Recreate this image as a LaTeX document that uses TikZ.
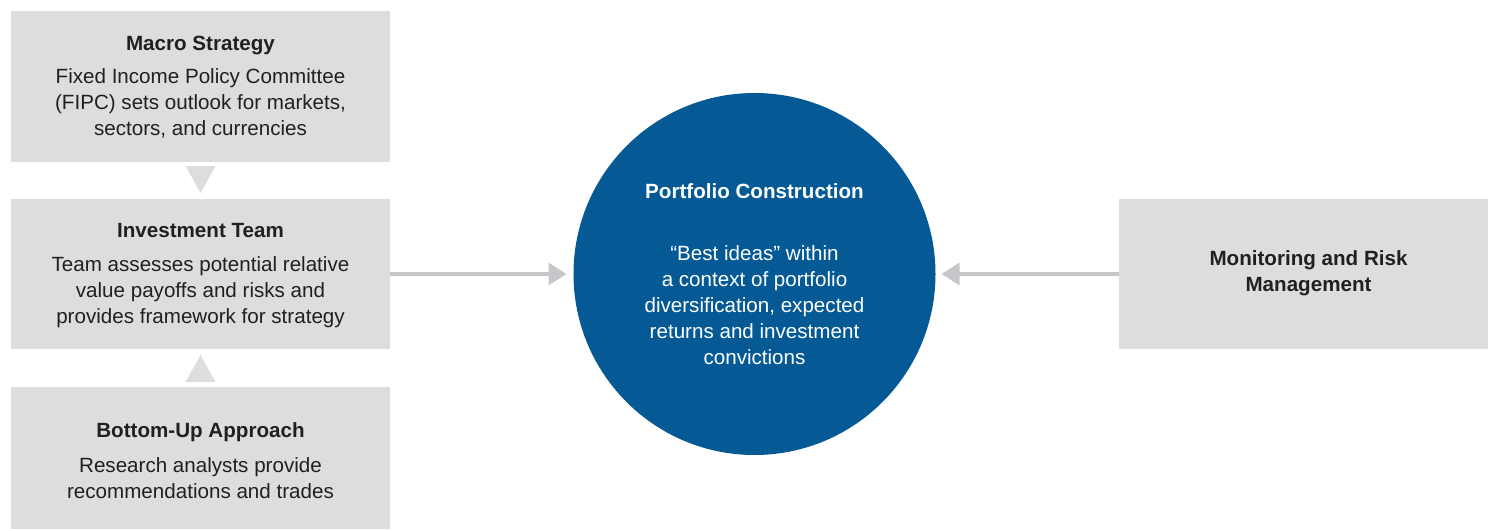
\documentclass[tikz,border=0pt]{standalone}
\usepackage{fontspec}
\setmainfont{Liberation Sans}
\usetikzlibrary{arrows.meta,calc}
\definecolor{boxgray}{HTML}{DCDDDE}
\definecolor{arrowgray}{HTML}{C6C7CA}
\definecolor{circblue}{HTML}{055A96}
\definecolor{txtdark}{HTML}{231F20}
\begin{document}
\begin{tikzpicture}[x=1pt,y=-1pt,
  graybox/.style={fill=boxgray,draw=none,minimum width=379pt,inner sep=0pt,outer sep=0pt,
    align=center,text=txtdark,font=\fontsize{20.6}{26}\selectfont},
  connarrow/.style={draw=arrowgray,line width=3.3pt,-{Triangle[length=18pt,width=22pt]}},
  tri/.style={fill=boxgray,draw=none}]
\useasboundingbox (0,0) rectangle (1488,530);
\node[graybox,minimum height=151pt] (macro) at (200.5,86.5) {};
\node[align=center,text=txtdark,font=\fontsize{20.6}{26}\selectfont] (macrotxt) at (200.5,87)
  {\textbf{Macro Strategy}\\[7pt]Fixed Income Policy Committee\\(FIPC) sets outlook for markets,\\sectors, and currencies};
\node[graybox,minimum height=150pt] (inv) at (200.5,274) {};
\node[align=center,text=txtdark,font=\fontsize{20.6}{26}\selectfont] (invtxt) at (200.5,275.5)
  {\textbf{Investment Team}\\[8pt]Team assesses potential relative\\value payoffs and risks and\\provides framework for strategy};
\node[graybox,minimum height=142pt] (bottom) at (200.5,458) {};
\node[align=center,text=txtdark,font=\fontsize{20.6}{26.5}\selectfont] (bottomtxt) at (200.5,461)
  {\textbf{Bottom-Up Approach}\\[8pt]Research analysts provide\\recommendations and trades};
\node[graybox,minimum width=369pt,minimum height=150pt] (risk) at (1303.5,274) {};
\node[align=center,text=txtdark,font=\fontsize{20.6}{26}\selectfont\bfseries] (risktxt) at (1308.5,273)
  {Monitoring and Risk\\Management};
\node[circle,fill=circblue,minimum size=362pt,inner sep=0pt,outer sep=0pt,align=center,text=white,
  font=\fontsize{20.6}{26}\selectfont] (circ) at (754.5,274)
  {\textbf{Portfolio Construction}\\[36pt]“Best ideas” within\\a context of portfolio\\diversification, expected\\returns and investment\\convictions};
% triangles
\fill[tri] ($(macro.south)+(-15,4)$) -- ($(macro.south)+(15,4)$) -- ($(macro.south)+(0,31)$) -- cycle;
\fill[tri] ($(bottom.north)+(-15,-5)$) -- ($(bottom.north)+(15,-5)$) -- ($(bottom.north)+(0,-32)$) -- cycle;
% arrows
\draw[connarrow,shorten >=7pt] (inv.east) -- (circ.west);
\draw[connarrow,shorten >=6pt] (risk.west) -- (circ.east);
\end{tikzpicture}
\end{document}
